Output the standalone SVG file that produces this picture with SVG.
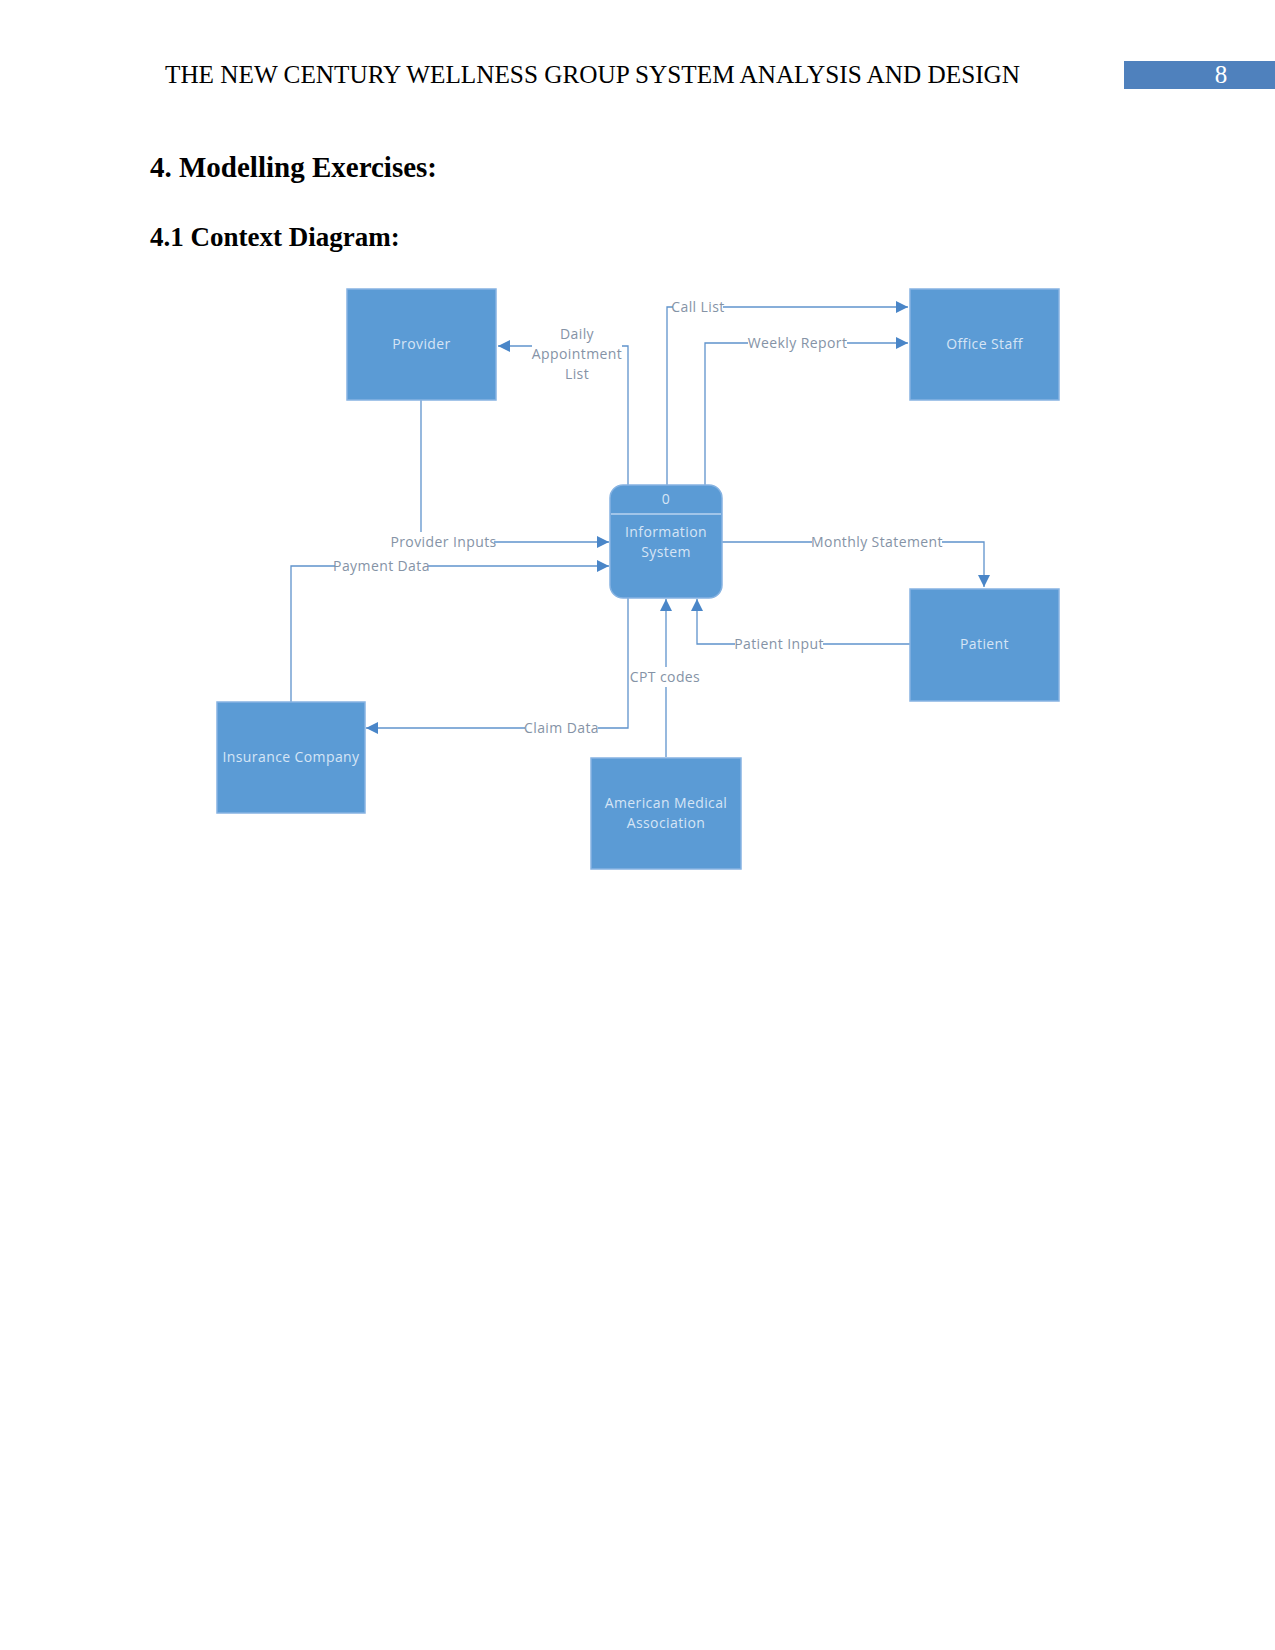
<svg xmlns="http://www.w3.org/2000/svg" width="1275" height="1650" viewBox="0 0 1275 1650">
<defs>
<marker id="arr" markerUnits="userSpaceOnUse" markerWidth="14" markerHeight="12" refX="12" refY="6" orient="auto">
<path d="M0,0 L12,6 L0,12 Z" fill="#4a86c8"/>
</marker>
<style>
.hdr{font-family:"Liberation Serif","Times New Roman",serif;fill:#000}
.h{font-family:"Liberation Serif","Times New Roman",serif;font-weight:bold;fill:#000}
.box{fill:#5b9bd5;stroke:#86b3e2;stroke-width:1.5}
.bt{font-family:"Open Sans","Noto Sans",sans-serif;font-size:14px;letter-spacing:0.4px;fill:#d6e5f5;text-anchor:middle}
.ln{fill:none;stroke:#5f93cc;stroke-width:1.3}
.lt{font-family:"Open Sans","Noto Sans",sans-serif;font-size:14px;letter-spacing:0.4px;fill:#8593a6;text-anchor:middle}
</style>
</defs>
<rect width="1275" height="1650" fill="#fff"/>
<text class="hdr" x="165" y="83" font-size="25" textLength="855" lengthAdjust="spacingAndGlyphs">THE NEW CENTURY WELLNESS GROUP SYSTEM ANALYSIS AND DESIGN</text>
<rect x="1124" y="61" width="151" height="28" fill="#4f81bd"/>
<text class="hdr" x="1221" y="83" font-size="25" style="fill:#fff" text-anchor="middle">8</text>
<text class="h" x="150" y="177" font-size="29">4. Modelling Exercises:</text>
<text class="h" x="150" y="246" font-size="27">4.1 Context Diagram:</text>

<g id="connectors">
<path class="ln" d="M628,485 V346 H622"/>
<path class="ln" d="M532,346 H498" marker-end="url(#arr)"/>
<text class="lt" x="577" y="339">Daily</text>
<text class="lt" x="577" y="359">Appointment</text>
<text class="lt" x="577" y="379">List</text>

<path class="ln" d="M667,485 V307 H673"/>
<path class="ln" d="M723,307 H908" marker-end="url(#arr)"/>
<text class="lt" x="698" y="311.5">Call List</text>

<path class="ln" d="M705,485 V343 H748"/>
<path class="ln" d="M847,343 H908" marker-end="url(#arr)"/>
<text class="lt" x="797.5" y="348">Weekly Report</text>

<path class="ln" d="M421,400 V532"/>
<path class="ln" d="M494,542 H609" marker-end="url(#arr)"/>
<text class="lt" x="443.5" y="547">Provider Inputs</text>

<path class="ln" d="M291,702 V566 H335"/>
<path class="ln" d="M428,566 H609" marker-end="url(#arr)"/>
<text class="lt" x="381.5" y="571">Payment Data</text>

<path class="ln" d="M722,542 H812"/>
<path class="ln" d="M942,542 H984 V587" marker-end="url(#arr)"/>
<text class="lt" x="877" y="547">Monthly Statement</text>

<path class="ln" d="M910,644 H823"/>
<path class="ln" d="M735,644 H697 V599" marker-end="url(#arr)"/>
<text class="lt" x="779" y="649">Patient Input</text>

<path class="ln" d="M666,757 V687"/>
<path class="ln" d="M666,667 V599" marker-end="url(#arr)"/>
<text class="lt" x="665" y="682">CPT codes</text>

<path class="ln" d="M628,598 V728 H598"/>
<path class="ln" d="M525,728 H366" marker-end="url(#arr)"/>
<text class="lt" x="561.5" y="733">Claim Data</text>
</g>

<g id="provider">
<rect class="box" x="347" y="289" width="149" height="111"/>
<text class="bt" x="421.5" y="349">Provider</text>
</g>
<g id="office-staff">
<rect class="box" x="910" y="289" width="149" height="111"/>
<text class="bt" x="984.5" y="349">Office Staff</text>
</g>
<g id="information-system">
<rect x="610" y="485" width="112" height="113" rx="13" ry="13" fill="#5b9bd5" stroke="#86b3e2" stroke-width="1.5"/>
<line x1="611" y1="514" x2="721" y2="514" stroke="#b9d3ef" stroke-width="1.3"/>
<text class="bt" x="666" y="504">0</text>
<text class="bt" x="666" y="537">Information</text>
<text class="bt" x="666" y="557">System</text>
</g>
<g id="patient">
<rect class="box" x="910" y="589" width="149" height="112"/>
<text class="bt" x="984.5" y="649">Patient</text>
</g>
<g id="insurance-company">
<rect class="box" x="217" y="702" width="148" height="111"/>
<text class="bt" x="291" y="762">Insurance Company</text>
</g>
<g id="american-medical-association">
<rect class="box" x="591" y="758" width="150" height="111"/>
<text class="bt" x="666" y="808">American Medical</text>
<text class="bt" x="666" y="828">Association</text>
</g>
</svg>
